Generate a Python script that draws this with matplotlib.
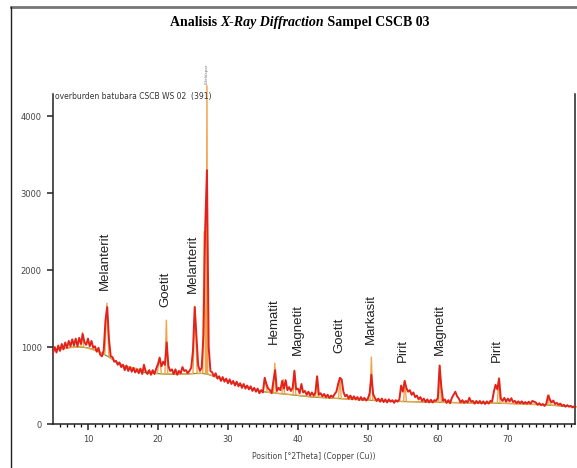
import numpy as np
import matplotlib
matplotlib.use("Agg")
import matplotlib.pyplot as plt
from matplotlib.lines import Line2D

# measured trace, 0.25 deg step from 5 deg
two_theta = np.arange(5.0, 80.0, 0.25)
counts = [
    920, 1000, 930, 1020, 950, 1040, 970, 1060, 990, 1080, 1010, 1100,
    1020, 1110, 1010, 1120, 1040, 1170, 1060, 1030, 1110, 1010, 1080, 990,
    1010, 940, 990, 900, 880, 960, 1350, 1520, 1100, 880, 870, 810,
    820, 770, 800, 740, 770, 700, 760, 690, 740, 680, 730, 670,
    710, 660, 720, 650, 770, 680, 650, 700, 640, 700, 650, 720,
    780, 860, 750, 810, 770, 1060, 750, 690, 710, 650, 710, 640,
    690, 660, 740, 690, 700, 660, 690, 730, 950, 1520, 1150, 760,
    690, 730, 1150, 2550, 3300, 1000, 690, 670, 620, 660, 590, 620,
    560, 610, 550, 590, 530, 580, 520, 560, 500, 550, 490, 530,
    470, 520, 460, 500, 450, 490, 430, 470, 420, 460, 400, 440,
    410, 600, 520, 460, 440, 400, 560, 700, 430, 470, 440, 560,
    460, 570, 440, 480, 430, 470, 690, 450, 460, 400, 520, 410,
    430, 380, 420, 370, 410, 370, 410, 620, 380, 400, 360, 390,
    350, 380, 340, 370, 350, 390, 420, 520, 600, 580, 420, 360,
    380, 330, 370, 320, 360, 320, 350, 310, 350, 310, 340, 305,
    330, 400, 640, 390, 340, 300, 330, 290, 330, 285, 320, 280,
    320, 290, 310, 275, 310, 290, 320, 500, 420, 560, 470, 420,
    440, 380, 410, 350, 370, 320, 350, 300, 330, 285, 320, 280,
    315, 280, 310, 300, 340, 760, 480, 300, 320, 275, 310, 270,
    340, 380, 420, 360, 330, 280, 310, 275, 300, 280, 340, 290,
    300, 265, 300, 270, 300, 265, 295, 260, 295, 265, 300, 290,
    420, 510, 450, 590, 330, 300, 340, 290, 330, 295, 335, 285,
    300, 270, 295, 270, 295, 265, 285, 265, 290, 265, 300, 290,
    280, 250, 270, 245, 260, 235, 265, 370, 320, 280, 305, 260,
    275, 250, 265, 235, 250, 225, 245, 225, 235, 215, 230, 215,
]

# calculated profile (orange)
calc_x = [5, 8, 9.0, 9.2, 9.4, 11, 12.4, 12.7, 13.0, 15, 19.9, 20.2, 20.5,
          21.0, 21.2, 21.4, 24, 25.0, 25.3, 25.6, 26.4, 26.6, 26.8, 26.9,
          27.0, 27.1, 30, 35.0, 35.3, 35.6, 36.5, 36.7, 36.9, 37.7, 37.9,
          38.1, 39.3, 39.5, 39.7, 42.5, 42.7, 42.9, 45.8, 46.0, 46.2, 50.3,
          50.5, 50.7, 55.1, 55.3, 55.5, 60.1, 60.3, 60.5, 68.5, 68.7, 68.9,
          75.7, 75.9, 76.1, 80]
calc_y = [960, 1000, 1000, 1190, 1000, 960, 905, 1570, 870, 760, 655, 870, 655,
          650, 1350, 650, 650, 655, 1530, 655, 660, 2500, 660, 660,
          4400, 650, 560, 420, 600, 415, 405, 790, 400, 392, 580,
          390, 382, 700, 378, 350, 620, 350, 332, 600, 330, 310,
          870, 310, 293, 560, 292, 282, 760, 282, 270, 600, 270,
          247, 380, 246, 222]

# background (green)
bg_x = [5, 6, 7, 8, 9, 10, 11, 12, 13, 14, 15, 16, 17, 18, 19, 20, 22, 24,
        26, 27, 28, 29, 30, 31, 32, 33, 34, 35, 36, 38, 40, 42, 44, 46, 48,
        50, 52, 54, 56, 58, 60, 62, 64, 66, 68, 70, 72, 74, 76, 78, 80]
bg_y = [960, 975, 990, 1000, 1000, 990, 960, 920, 870, 810, 760, 720, 690,
        670, 660, 655, 645, 650, 660, 650, 620, 590, 560, 530, 500, 470, 445,
        420, 410, 390, 370, 350, 340, 330, 320, 310, 300, 295, 290, 285, 282,
        278, 275, 272, 270, 268, 262, 255, 245, 232, 222]

phases = ["Melanterit", "Goetit", "Melanterit", "Hematit", "Magnetit",
          "Goetit", "Markasit", "Pirit", "Magnetit", "Pirit"]
phase_pos = [12.45, 21.0, 25.0, 36.6, 40.0, 45.9, 50.4, 55.0, 60.3, 68.4]
phase_base = [1740, 1520, 1700, 1040, 900, 920, 1040, 805, 900, 805]

fig = plt.figure(figsize=(5.77, 4.68), dpi=100)
fig.patch.set_facecolor("white")
ax = fig.add_axes([53 / 577, 44 / 468, 522 / 577, 330 / 468])

ax.plot(bg_x, bg_y, color="#5a9e32", lw=0.9, zorder=1)
ax.plot(calc_x, calc_y, color="#f2a24a", lw=1.0, zorder=2, clip_on=False)
ax.plot(two_theta, counts, color="#e3231b", lw=1.4, zorder=3)

ax.text(27.0, 4420, "K-feldspar", rotation=90, ha="center", va="bottom",
        fontsize=3, color="#777777")

for name, xp, yb in zip(phases, phase_pos, phase_base):
    ax.text(xp, yb, name, rotation=90, ha="center", va="bottom",
            fontsize=9.5, family="Liberation Sans", color="#222222")

ax.text(5.3, 4200, "overburden batubara CSCB WS 02  (391)", fontsize=5.5,
        color="#333333", va="bottom", ha="left")

ax.set_xlim(5, 79.6)
ax.set_ylim(0, 4290)
ax.set_xticks([10, 20, 30, 40, 50, 60, 70])
ax.set_xticks(np.arange(6, 80, 1), minor=True)
ax.set_yticks([0, 1000, 2000, 3000, 4000])
ax.tick_params(axis="both", which="major", direction="out", length=4.5,
               width=1.1, labelsize=6, colors="#222222", labelcolor="#444444")
ax.tick_params(axis="x", which="minor", direction="out", length=2.2, width=0.9)
ax.spines["top"].set_visible(False)
for s in ["left", "right", "bottom"]:
    ax.spines[s].set_linewidth(1.1)
    ax.spines[s].set_color("#222222")
ax.set_xlabel("Position [°2Theta] (Copper (Cu))", fontsize=5.5, color="#444444",
              labelpad=6)
ax.set_facecolor("white")

# outer frame
fig.add_artist(Line2D([11 / 577, 1.0], [1 - 7 / 468, 1 - 7 / 468],
                      color="#777777", lw=2, transform=fig.transFigure))
fig.add_artist(Line2D([11 / 577, 11 / 577], [0, 1 - 7 / 468],
                      color="#222222", lw=1, transform=fig.transFigure))

# title with italic middle part
parts = [("Analisis ", "normal"), ("X-Ray Diffraction", "italic"),
         (" Sampel CSCB 03", "normal")]
fig.canvas.draw()
renderer = fig.canvas.get_renderer()
texts = []
total = 0
for s, st in parts:
    t = fig.text(0, 0.951, s, fontsize=10, fontweight="bold", style=st,
                 family="Liberation Serif", va="center", ha="left")
    w = t.get_window_extent(renderer).width
    texts.append((t, w))
    total += w
x0 = 300 - total / 2
for t, w in texts:
    t.set_x(x0 / 577)
    x0 += w

fig.savefig("out.png", dpi=100)
